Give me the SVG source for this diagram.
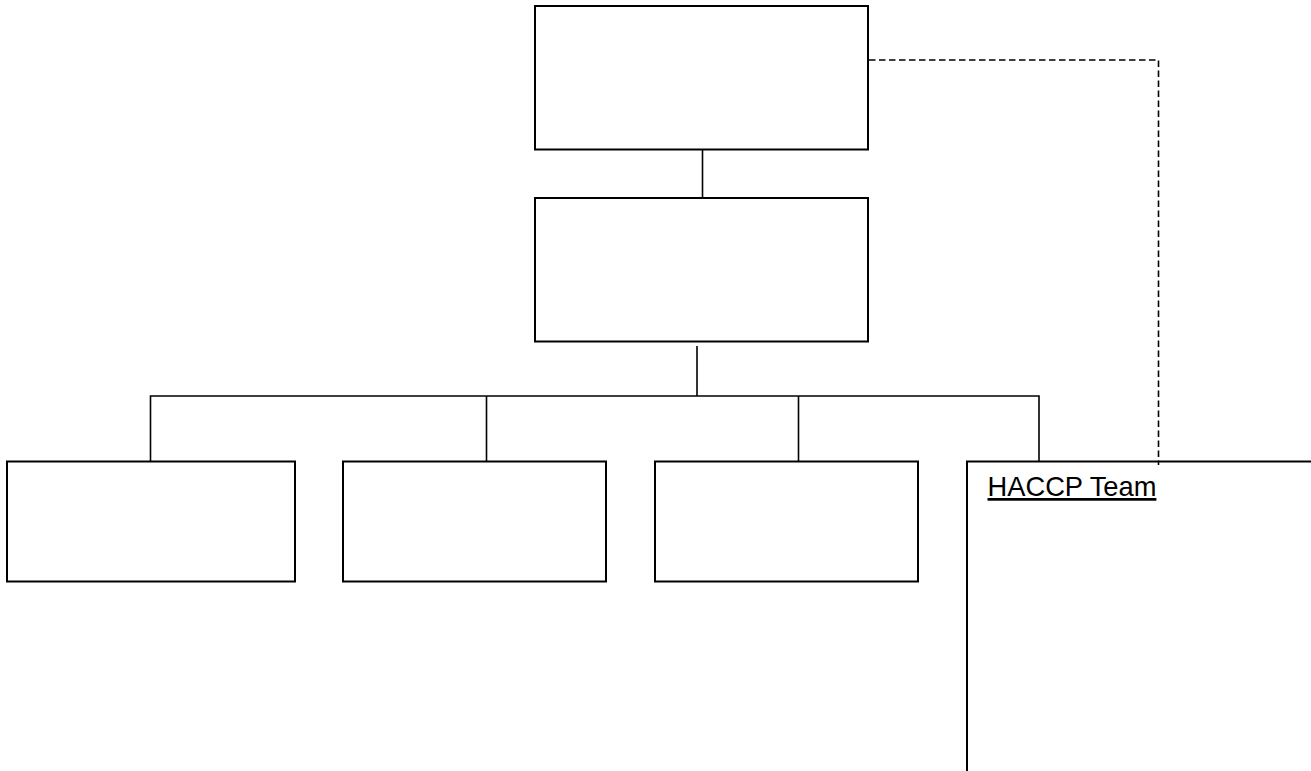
<svg xmlns="http://www.w3.org/2000/svg" width="1311" height="771" viewBox="0 0 1311 771">
<style>
.box{fill:#fff;stroke:#000;stroke-width:2}
.ln{fill:none;stroke:#000;stroke-width:1.6}
.dash{fill:none;stroke:#000;stroke-width:1.6;stroke-dasharray:6.5 3.5}
.lbl{font-family:"Liberation Sans",Arial,sans-serif;font-size:27.3px;fill:#000;text-decoration:underline}
</style>
<rect width="1311" height="771" fill="#fff"/>
<g id="connectors">
<line class="ln" x1="702.5" y1="149.5" x2="702.5" y2="197.5"/>
<line class="ln" x1="697" y1="346" x2="697" y2="396"/>
<polyline class="ln" points="150.5,461.5 150.5,396 1039,396 1039,461.5"/>
<line class="ln" x1="486.5" y1="396" x2="486.5" y2="461.5"/>
<line class="ln" x1="798.5" y1="396" x2="798.5" y2="461.5"/>
<polyline class="dash" points="869,60 1158.5,60 1158.5,465"/>
</g>
<g id="node-top"><rect class="box" x="535" y="6" width="333" height="143.5"/></g>
<g id="node-second"><rect class="box" x="535" y="198" width="333" height="143.5"/></g>
<g id="node-c1"><rect class="box" x="7" y="461.5" width="288" height="120"/></g>
<g id="node-c2"><rect class="box" x="343" y="461.5" width="263" height="120"/></g>
<g id="node-c3"><rect class="box" x="655" y="461.5" width="263" height="120"/></g>
<g id="node-haccp">
<polyline class="ln" style="stroke-width:2" points="967,771 967,461.5 1311,461.5"/>
<text class="lbl" x="987.5" y="496">HACCP Team</text>
</g>
</svg>
